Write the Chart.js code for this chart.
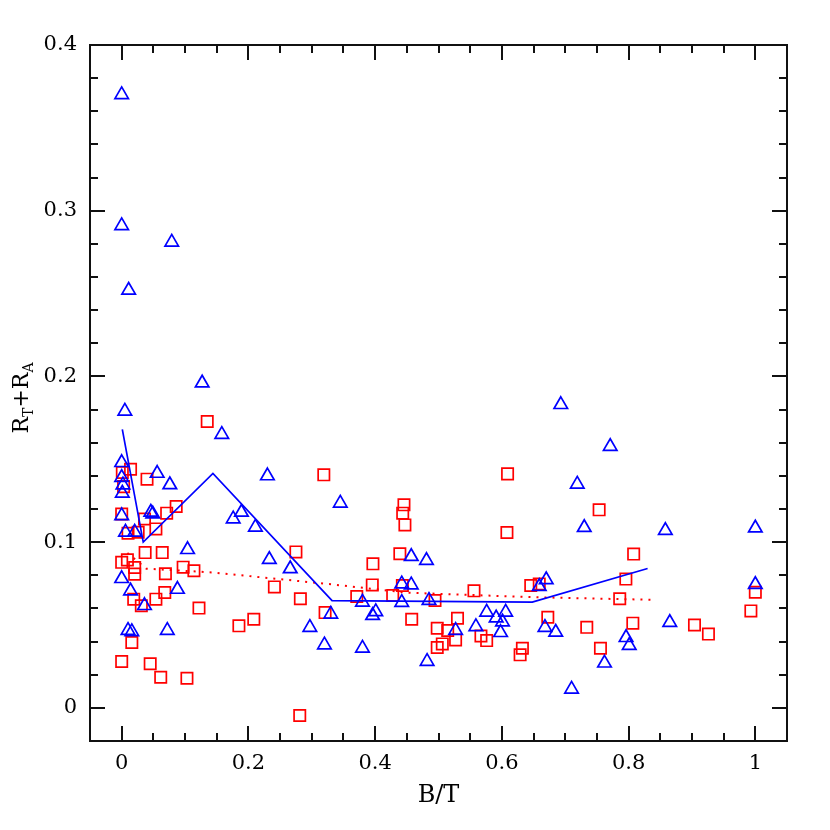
<!DOCTYPE html>
<html><head><meta charset="utf-8">
<script src="https://cdn.jsdelivr.net/npm/chart.js@4/dist/chart.umd.min.js"></script>
<style>html,body{margin:0;padding:0;background:#fff;}</style>
</head><body>
<canvas id="c" width="830" height="830"></canvas>
<script>
// Blue triangles
const blueX = [0,0,0.011,0.079,0.127,0.158,0.005,0,0,0.002,0.001,0,0.006,0.0205,0.056,0.076,0.046,0.049,0.104,0,0.014,0.036,0.088,0.010,0.016,0.072,0.230,0.176,0.189,0.211,0.233,0.266,0.345,0.297,0.320,0.330,0.380,0.380,0.396,0.401,0.442,0.457,0.442,0.457,0.481,0.485,0.482,0.527,0.559,0.576,0.606,0.591,0.601,0.598,0.659,0.670,0.668,0.685,0.693,0.719,0.730,0.771,0.762,0.710,0.796,0.801,0.858,0.865,1.0,1.0];
const blueY = [0.370,0.291,0.252,0.281,0.196,0.165,0.179,0.148,0.139,0.1345,0.1295,0.116,0.106,0.106,0.1415,0.1346,0.118,0.117,0.0955,0.078,0.0705,0.0617,0.0715,0.0467,0.046,0.0467,0.140,0.114,0.118,0.109,0.0895,0.0839,0.1235,0.0485,0.038,0.0565,0.036,0.0638,0.0557,0.058,0.0748,0.0742,0.0636,0.0913,0.0889,0.0648,0.028,0.0467,0.049,0.0577,0.0577,0.0542,0.0518,0.0454,0.0732,0.0773,0.0485,0.0456,0.183,0.135,0.1088,0.1577,0.027,0.0113,0.0424,0.0376,0.107,0.0515,0.1085,0.0744];
// Red squares
const redX = [0.135,0.001,0.014,0.040,0.003,0,0.086,0.071,0.036,0.054,0.026,0.010,0.037,0.064,0,0.009,0.0205,0.0205,0.069,0.097,0.114,0.241,0.019,0.031,0.054,0.068,0.122,0.016,0,0.045,0.0616,0.103,0.185,0.2085,0.319,0.275,0.282,0.321,0.281,0.3965,0.3955,0.371,0.439,0.4455,0.4435,0.447,0.4277,0.443,0.4577,0.4945,0.498,0.5145,0.506,0.498,0.609,0.608,0.7535,0.808,0.7957,0.786,0.556,0.6456,0.659,0.530,0.527,0.567,0.576,0.6725,0.734,0.7556,0.8067,0.6324,0.6288,0.904,0.926,1.0,0.993];
const redY = [0.1728,0.142,0.144,0.138,0.1335,0.117,0.1215,0.1175,0.114,0.108,0.106,0.1054,0.0937,0.0937,0.0878,0.0893,0.0847,0.0807,0.0809,0.0849,0.0827,0.0730,0.0656,0.0616,0.0656,0.0696,0.0602,0.0394,0.028,0.0266,0.0185,0.0179,0.0495,0.0535,0.1406,0.0941,0.0658,0.0575,-0.0046,0.0869,0.0742,0.0672,0.093,0.1225,0.1175,0.1104,0.0678,0.0738,0.0535,0.0648,0.048,0.0467,0.0386,0.0364,0.1412,0.1058,0.1195,0.0928,0.0777,0.0658,0.0706,0.0738,0.0748,0.0541,0.041,0.0434,0.0406,0.0547,0.0486,0.036,0.0511,0.036,0.032,0.050,0.0445,0.0698,0.0585];
// Binned lines
const blueLineX = [0.001,0.034,0.144,0.332,0.648,0.830];
const blueLineY = [0.168,0.100,0.1415,0.0647,0.0638,0.0841];
const redLineX = [0.009,0.039,0.144,0.332,0.45,0.648,0.838];
const redLineY = [0.0935,0.0840,0.0817,0.0745,0.0695,0.0668,0.0652];
// Axis ticks
const xTickVals = [0,0.2,0.4,0.6,0.8,1];
const xTickLabels = ['0','0.2','0.4','0.6','0.8','1'];
const yTickVals = [0,0.1,0.2,0.3,0.4];
const yTickLabels = ['0','0.1','0.2','0.3','0.4'];
const xMinorStep = 0.05, yMinorStep = 0.02;

const pts = (xs, ys) => xs.map((x, i) => ({x, y: ys[i]}));
const FONT = "'DejaVu Serif', 'Liberation Serif', serif";

const framePlugin = {
  id: 'frame',
  afterDraw(chart) {
    const {ctx, chartArea: a, scales: {x, y}} = chart;
    ctx.save();
    ctx.strokeStyle = '#111';
    ctx.lineWidth = 2;
    ctx.lineCap = 'butt';
    ctx.strokeRect(a.left, a.top, a.right - a.left, a.bottom - a.top);
    ctx.beginPath();
    const xmaj = new Set(xTickVals.map(v => Math.round(v * 1000)));
    for (let i = -1; i <= 21; i++) {
      const v = i * xMinorStep;
      if (v < x.min - 1e-9 || v > x.max + 1e-9) continue;
      const px = Math.round(x.getPixelForValue(v));
      const len = xmaj.has(Math.round(v * 1000)) ? 15 : 8;
      ctx.moveTo(px, a.bottom); ctx.lineTo(px, a.bottom - len);
      ctx.moveTo(px, a.top); ctx.lineTo(px, a.top + len);
    }
    const ymaj = new Set(yTickVals.map(v => Math.round(v * 1000)));
    for (let i = -1; i <= 20; i++) {
      const v = i * yMinorStep;
      if (v < y.min - 1e-9 || v > y.max + 1e-9) continue;
      const py = Math.round(y.getPixelForValue(v));
      const len = ymaj.has(Math.round(v * 1000)) ? 15 : 8;
      ctx.moveTo(a.left, py); ctx.lineTo(a.left + len, py);
      ctx.moveTo(a.right, py); ctx.lineTo(a.right - len, py);
    }
    ctx.stroke();

    // Y axis title with subscripts
    ctx.translate(28, (a.top + a.bottom) / 2 + 5);
    ctx.rotate(-Math.PI / 2);
    ctx.fillStyle = '#000';
    ctx.textBaseline = 'alphabetic';
    ctx.textAlign = 'left';
    const big = "22px " + FONT, small = "14px " + FONT;
    const parts = [['R', big, 0], ['T', small, 5], ['+', big, 0], ['R', big, 0], ['A', small, 5]];
    let total = 0;
    parts.forEach(p => { ctx.font = p[1]; total += ctx.measureText(p[0]).width; });
    let cx = -total / 2;
    parts.forEach(p => {
      ctx.font = p[1];
      ctx.fillText(p[0], cx, p[2]);
      cx += ctx.measureText(p[0]).width;
    });
    ctx.restore();
  }
};

new Chart(document.getElementById('c'), {
  type: 'scatter',
  data: {
    datasets: [
      {data: pts(blueLineX, blueLineY), showLine: true, borderColor: '#0000ff', borderWidth: 1.7, pointRadius: 0, fill: false, tension: 0},
      {data: pts(redLineX, redLineY), showLine: true, borderColor: '#ff0000', borderWidth: 2, borderDash: [2, 6], pointRadius: 0, fill: false, tension: 0},
      {data: pts(blueX, blueY), pointStyle: 'triangle', pointRadius: 7.8, borderColor: '#0000ff', backgroundColor: 'rgba(0,0,0,0)', borderWidth: 1.7, showLine: false},
      {data: pts(redX, redY), pointStyle: 'rect', pointRadius: 8, borderColor: '#ff0000', backgroundColor: 'rgba(0,0,0,0)', borderWidth: 1.7, showLine: false}
    ]
  },
  options: {
    responsive: false,
    animation: false,
    events: [],
    layout: {padding: {left: 0, top: 45, right: 43, bottom: 0}},
    plugins: {legend: {display: false}, tooltip: {enabled: false}},
    scales: {
      x: {
        type: 'linear', min: -0.05, max: 1.05,
        afterFit(s) { s.height = 89; },
        afterBuildTicks(s) { s.ticks = xTickVals.map(v => ({value: v})); },
        ticks: {callback: (v, i) => xTickLabels[i], font: {family: FONT, size: 21}, color: '#000', padding: 10, maxRotation: 0, autoSkip: false},
        grid: {display: false, drawTicks: false},
        border: {display: false},
        title: {display: true, text: 'B/T', font: {family: FONT, size: 24}, color: '#000', padding: {top: 0, bottom: 20}}
      },
      y: {
        type: 'linear', min: -0.02, max: 0.4,
        afterFit(s) { s.width = 90; },
        afterBuildTicks(s) { s.ticks = yTickVals.map(v => ({value: v})); },
        ticks: {callback: (v, i) => yTickLabels[i], font: {family: FONT, size: 21}, color: '#000', padding: 13, autoSkip: false},
        grid: {display: false, drawTicks: false},
        border: {display: false}
      }
    }
  },
  plugins: [framePlugin]
});
</script>
</body></html>
